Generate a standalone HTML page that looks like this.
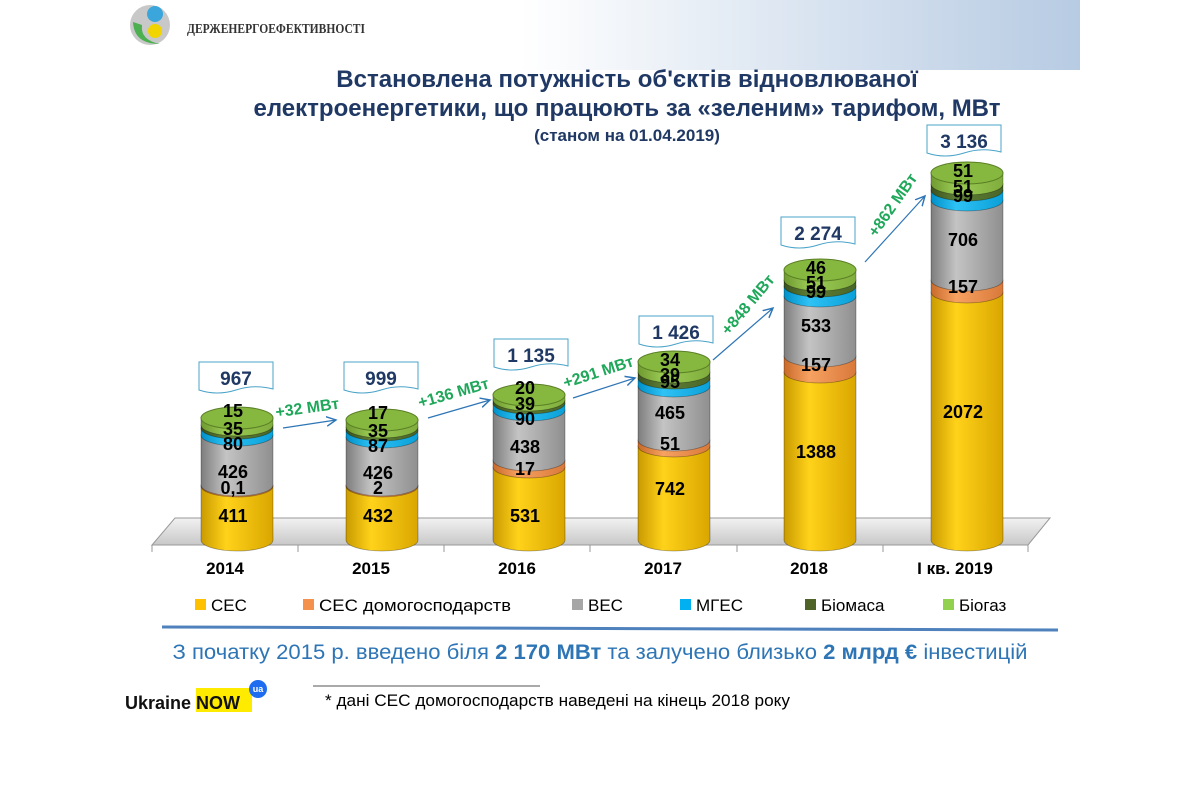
<!DOCTYPE html>
<html><head><meta charset="utf-8"><style>
body{margin:0;width:1200px;height:800px;background:#fff;overflow:hidden;font-family:"Liberation Sans",sans-serif}
</style></head><body>
<svg width="1200" height="800" xmlns="http://www.w3.org/2000/svg" style="position:absolute;left:0;top:0">
<defs>
<linearGradient id="hdr" x1="0" x2="1"><stop offset="0" stop-color="#fff"/><stop offset="1" stop-color="#b7cbe3"/></linearGradient>
<linearGradient id="yl" x1="0" x2="1"><stop offset="0" stop-color="#c99a00"/><stop offset=".35" stop-color="#ffd21a"/><stop offset="1" stop-color="#d9a600"/></linearGradient>
<linearGradient id="or" x1="0" x2="1"><stop offset="0" stop-color="#c86a2a"/><stop offset=".35" stop-color="#f7a262"/><stop offset="1" stop-color="#d9793a"/></linearGradient>
<linearGradient id="gr" x1="0" x2="1"><stop offset="0" stop-color="#7d7d7d"/><stop offset=".35" stop-color="#c4c4c4"/><stop offset="1" stop-color="#8f8f8f"/></linearGradient>
<linearGradient id="bl" x1="0" x2="1"><stop offset="0" stop-color="#0090c8"/><stop offset=".35" stop-color="#2ec2f5"/><stop offset="1" stop-color="#0aa0d8"/></linearGradient>
<linearGradient id="dg" x1="0" x2="1"><stop offset="0" stop-color="#3c5220"/><stop offset=".35" stop-color="#5f7f35"/><stop offset="1" stop-color="#4a6628"/></linearGradient>
<linearGradient id="lg" x1="0" x2="1"><stop offset="0" stop-color="#6f9a30"/><stop offset=".35" stop-color="#9ccb55"/><stop offset="1" stop-color="#80ad3c"/></linearGradient>
<linearGradient id="floor" x1="0" y1="0" x2="0" y2="1"><stop offset="0" stop-color="#f2f2f2"/><stop offset="1" stop-color="#c8c8c8"/></linearGradient>
<marker id="ah" markerWidth="10" markerHeight="10" refX="8" refY="5" orient="auto"><path d="M0,1 L8,5 L0,9" fill="none" stroke="#2e75b6" stroke-width="1.2"/></marker>
</defs>
<rect x="520" y="0" width="560" height="70" fill="url(#hdr)"/>
<!-- logo -->
<circle cx="150" cy="25" r="20" fill="#c8c8c8"/>
<circle cx="155" cy="14" r="8" fill="#3aa6dc"/>
<path d="M133,22 Q134,44 160,44 Q140,40 142,25 Z" fill="#4caf50"/>
<circle cx="155" cy="31" r="7" fill="#f1d400"/>
<text x="187" y="33" font-family="Liberation Serif,serif" font-weight="bold" font-size="14" fill="#333" textLength="178" lengthAdjust="spacingAndGlyphs">ДЕРЖЕНЕРГОЕФЕКТИВНОСТІ</text>
<!-- title -->
<g font-weight="bold" fill="#1f3864" text-anchor="middle">
<text x="627" y="87" font-size="24">Встановлена потужність об'єктів відновлюваної</text>
<text x="627" y="116" font-size="24">електроенергетики, що працюють за «зеленим» тарифом, МВт</text>
<text x="627" y="141" font-size="17">(станом на 01.04.2019)</text>
</g>
<!-- floor -->
<path d="M175,518 L1050,518 L1028,545 L152,545 Z" fill="url(#floor)" stroke="#999" stroke-width="1"/>
<g stroke="#999"><line x1="152" y1="545" x2="152" y2="552"/><line x1="298" y1="545" x2="298" y2="552"/><line x1="444" y1="545" x2="444" y2="552"/><line x1="590" y1="545" x2="590" y2="552"/><line x1="737" y1="545" x2="737" y2="552"/><line x1="883" y1="545" x2="883" y2="552"/><line x1="1028" y1="545" x2="1028" y2="552"/></g>
<g id="cyls"></g>
<!-- x labels -->
<g font-weight="bold" font-size="17" fill="#000" text-anchor="middle">
<text x="225" y="574">2014</text><text x="371" y="574">2015</text><text x="517" y="574">2016</text><text x="663" y="574">2017</text><text x="809" y="574">2018</text><text x="955" y="574">І кв. 2019</text>
</g>
<!-- legend -->
<g font-size="17" fill="#000">
<rect x="195" y="599" width="11" height="11" fill="#ffc000"/><text x="211" y="611">СЕС</text>
<rect x="303" y="599" width="11" height="11" fill="#f4914d"/><text x="319" y="611" textLength="192" lengthAdjust="spacingAndGlyphs">СЕС домогосподарств</text>
<rect x="572" y="599" width="11" height="11" fill="#a6a6a6"/><text x="588" y="611">ВЕС</text>
<rect x="680" y="599" width="11" height="11" fill="#00b0f0"/><text x="696" y="611">МГЕС</text>
<rect x="805" y="599" width="11" height="11" fill="#4f6228"/><text x="821" y="611">Біомаса</text>
<rect x="943" y="599" width="11" height="11" fill="#92d050"/><text x="959" y="611">Біогаз</text>
</g>
<line x1="162" y1="627" x2="1058" y2="630" stroke="#4f81bd" stroke-width="3"/>
<text x="600" y="659" text-anchor="middle" font-size="21" fill="#2e75b6" textLength="855" lengthAdjust="spacingAndGlyphs">З початку 2015 р. введено  біля <tspan font-weight="bold">2 170 МВт</tspan> та залучено близько  <tspan font-weight="bold">2 млрд € </tspan>інвестицій</text>
<line x1="313" y1="686" x2="540" y2="686" stroke="#555" stroke-width="1"/>
<text x="325" y="706" font-size="17" fill="#000" textLength="465" lengthAdjust="spacingAndGlyphs">* дані СЕС домогосподарств  наведені на кінець 2018 року</text>
<rect x="196" y="688" width="56" height="24" fill="#ffeb00"/>
<text x="125" y="709" font-size="18" font-weight="bold" fill="#111">Ukraine <tspan>NOW</tspan></text>
<circle cx="258" cy="689" r="9" fill="#1e6cf0"/><text x="258" y="692" font-size="9" fill="#fff" text-anchor="middle" font-weight="bold">ua</text>
<!-- arrows -->
<g stroke="#2e75b6" stroke-width="1.2" marker-end="url(#ah)">
<line x1="283" y1="428" x2="336" y2="420"/>
<line x1="428" y1="418" x2="490" y2="400"/>
<line x1="573" y1="398" x2="635" y2="378"/>
<line x1="713" y1="360" x2="773" y2="308"/>
<line x1="865" y1="262" x2="925" y2="196"/>
</g>
<g font-weight="bold" font-size="16" fill="#1fa75a" text-anchor="middle">
<text transform="translate(308,413) rotate(-8)">+32 МВт</text>
<text transform="translate(455,398) rotate(-16)">+136 МВт</text>
<text transform="translate(600,377) rotate(-18)">+291 МВт</text>
<text transform="translate(752,308) rotate(-50)">+848 МВт</text>
<text transform="translate(897,208) rotate(-55)">+862 МВт</text>
</g>
</svg>
<script>
var data=[
 [237,[540,486,485,435,428,425,418],["411","0,1","426","80","35","15"],[967,199,362]],
 [382,[540,486,485,437,430,427,420],["432","2","426","87","35","17"],[999,344,362]],
 [529,[540,467,460,410,403,400,395],["531","17","438","90","39","20"],["1 135",494,339]],
 [674,[540,446,440,386,378,372,362],["742","51","465","95","39","34"],["1 426",639,316]],
 [820,[540,372,356,296,286,280,270],["1388","157","533","99","51","46"],["2 274",781,217]],
 [967,[540,292,280,200,190,184,173],["2072","157","706","99","51","51"],["3 136",927,125]]
];
var fills=["url(#yl)","url(#or)","url(#gr)","url(#bl)","url(#dg)","url(#lg)"];
var s="",rx=36,ry=11;
data.forEach(function(d){
 var cx=d[0],b=d[1],x1=cx-rx,x2=cx+rx;
 for(var i=0;i<6;i++){
  var bot=b[i],top=b[i+1];
  s+='<path d="M'+x1+','+top+' L'+x1+','+bot+' A'+rx+','+ry+' 0 0 0 '+x2+','+bot+' L'+x2+','+top+' Z" fill="'+fills[i]+'" stroke="rgba(0,0,0,0.35)" stroke-width="0.8"/>';
 }
 var t=b[6];
 s+='<ellipse cx="'+cx+'" cy="'+t+'" rx="'+rx+'" ry="'+ry+'" fill="#86b83f" stroke="#5a7f25" stroke-width="1"/>';
 var pos=[];
 for(var i=0;i<6;i++){pos.push((b[i]+b[i+1])/2+6);}
 if(cx<600){pos=[b[0]-18,b[1]+8,(b[2]+b[3])/2+18,b[3]+15,b[4]+7,t-1];}
 else{pos[0]=(b[0]+b[1])/2+2;pos[1]=(b[1]+b[2])/2+7;pos[2]=(b[2]+b[3])/2+6;pos[3]=b[3]+2;pos[4]=b[4]+3;pos[5]=t+4;}
 for(var i=0;i<6;i++){s+='<text x="'+(cx-4)+'" y="'+pos[i]+'" text-anchor="middle" font-weight="bold" font-size="18" fill="#000">'+d[2][i]+'</text>';}
 var bx=d[3][1],by=d[3][2];
 s+='<path d="M'+bx+','+by+' L'+(bx+74)+','+by+' L'+(bx+74)+','+(by+27)+' Q'+(bx+55)+','+(by+22)+' '+(bx+37)+','+(by+28)+' Q'+(bx+18)+','+(by+34)+' '+bx+','+(by+28)+' Z" fill="#fff" stroke="#4aa3c8" stroke-width="1"/>';
 s+='<text x="'+(bx+37)+'" y="'+(by+23)+'" text-anchor="middle" font-weight="bold" font-size="19" fill="#1f3864">'+d[3][0]+'</text>';
});
document.getElementById("cyls").innerHTML=s;
</script>
</body></html>
